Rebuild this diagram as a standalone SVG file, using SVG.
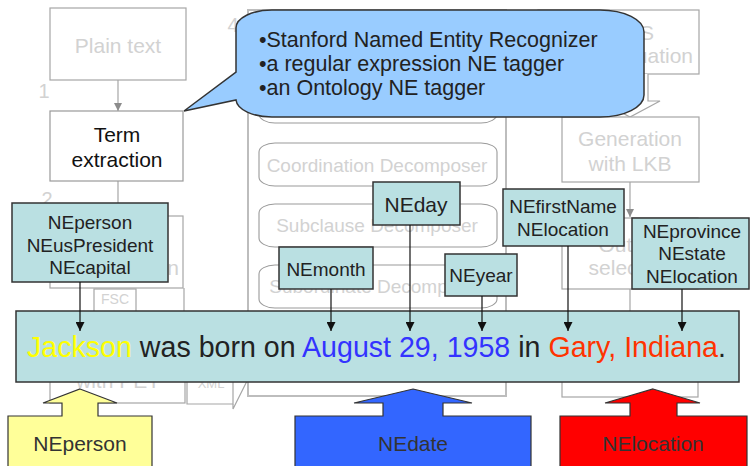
<svg xmlns="http://www.w3.org/2000/svg" width="750" height="466" viewBox="0 0 750 466">
  <style>
    text { font-family: "Liberation Sans", Arial, sans-serif; }
    .bgbox { fill: #ffffff; stroke: #a6a6a6; stroke-width: 1.2; }
    .bgline { fill: none; stroke: #a6a6a6; stroke-width: 1.2; }
    .bgtext { fill: #d2d2d2; font-size: 21px; text-anchor: middle; }
    .num { fill: #d2d2d2; font-size: 20px; text-anchor: middle; }
    .rnd { fill: #ffffff; stroke: #9a9a9a; stroke-width: 1.1; }
    .tag { fill: #bae0e2; stroke: #333333; stroke-width: 1.5; }
    .tagtext { fill: #222222; font-size: 19px; text-anchor: middle; }
    .big { stroke: #333333; stroke-width: 1.2; }
    .bigtext { fill: #333333; font-size: 21px; text-anchor: middle; }
    .bubble { fill: #222222; font-size: 21.5px; }
  </style>
  <defs>
    <marker id="ghead" markerWidth="8" markerHeight="8" refX="8" refY="4" orient="auto" markerUnits="userSpaceOnUse">
      <path d="M0,0 L8,4 L0,8 Z" fill="#8c8c8c"/>
    </marker>
    <marker id="bhead" markerWidth="9" markerHeight="9" refX="9" refY="4.5" orient="auto" markerUnits="userSpaceOnUse">
      <path d="M0,0 L9,4.5 L0,9 Z" fill="#111111"/>
    </marker>
  </defs>

  <!-- faded pipeline in the background -->
  <g id="pipeline">
    <rect class="bgbox" x="50" y="8" width="136" height="72"/>
    <text class="bgtext" x="118" y="53">Plain text</text>
    <text class="num" x="44" y="98">1</text>
    <line class="bgline" x1="118" y1="80" x2="118" y2="111" marker-end="url(#ghead)"/>

    <line class="bgline" x1="118" y1="181" x2="118" y2="216"/>
    <text class="num" x="47" y="206">2</text>
    <rect class="bgbox" x="50" y="216" width="133" height="72"/>
    <text class="bgtext" x="117" y="275">Simplification</text>
    <line class="bgline" x1="184" y1="288" x2="184" y2="312"/>
    <rect class="bgbox" x="94" y="289" width="42" height="40"/>
    <text x="115" y="304" fill="#d2d2d2" font-size="14" text-anchor="middle">FSC</text>
    <text x="115" y="321" fill="#d2d2d2" font-size="14" text-anchor="middle">XML</text>
    <text class="num" x="47" y="326">3</text>
    <rect class="bgbox" x="50" y="332" width="135" height="71"/>
    <text class="bgtext" x="118" y="388">with PET</text>
    <path class="bgbox" d="M187,360 H233 V404 H187 Z"/>
    <path class="bgline" d="M233,404 L233,409 L247,381"/>
    <text x="211" y="388" fill="#d2d2d2" font-size="13" text-anchor="middle">XML</text>

    <text class="num" x="233" y="32">4</text>
    <rect x="248" y="10" width="258" height="386" fill="#ffffff" stroke="#bdbdbd" stroke-width="2"/>
    <rect class="rnd" x="259" y="80" width="238" height="43" rx="16" ry="9"/>
    <rect class="rnd" x="259" y="143" width="238" height="43" rx="16" ry="9"/>
    <text x="377" y="172" fill="#d2d2d2" font-size="19" text-anchor="middle">Coordination Decomposer</text>
    <rect class="rnd" x="259" y="204" width="238" height="43" rx="16" ry="9"/>
    <text x="377" y="232" fill="#d2d2d2" font-size="19" text-anchor="middle">Subclause Decomposer</text>
    <rect class="rnd" x="259" y="265" width="238" height="43" rx="16" ry="9"/>
    <text x="377" y="293" fill="#d2d2d2" font-size="19" text-anchor="middle">Subordinate Decomposer</text>

    <rect class="bgbox" x="538" y="10" width="161" height="64"/>
    <text x="654" y="40" fill="#d2d2d2" font-size="21" text-anchor="end">MRS</text>
    <text x="693" y="63" fill="#d2d2d2" font-size="21" text-anchor="end">Disambiguation</text>
    <path d="M613,74 V101 H600 L630,117 L660,101 H648 V74" fill="#ffffff" stroke="#a6a6a6" stroke-width="1.2"/>
    <rect class="bgbox" x="562" y="117" width="137" height="65"/>
    <text class="bgtext" x="630" y="146">Generation</text>
    <text class="bgtext" x="630" y="171">with LKB</text>
    <line class="bgline" x1="630" y1="182" x2="630" y2="217" marker-end="url(#ghead)"/>
    <rect class="bgbox" x="562" y="218" width="136" height="71"/>
    <text class="bgtext" x="630" y="252">Output</text>
    <text class="bgtext" x="630" y="275">selection</text>
    <line class="bgline" x1="630" y1="289" x2="630" y2="312"/>
    <rect class="bgbox" x="562" y="360" width="136" height="37"/>
  </g>

  <!-- speech bubble listing the taggers -->
  <g id="callout">
    <path d="M272,10 H600 A44,22 0 0 1 644,32 V95 A44,22 0 0 1 600,117 H272 A36,18 0 0 1 236,100 L184,111 L236,72 V28 A36,18 0 0 1 272,10 Z" fill="#99ccff" stroke="#333333" stroke-width="1.5"/>
    <text class="bubble" x="259" y="47">•Stanford Named Entity Recognizer</text>
    <text class="bubble" x="259" y="71">•a regular expression NE tagger</text>
    <text class="bubble" x="259" y="95">•an Ontology NE tagger</text>
  </g>

  <g id="term-extraction">
    <rect x="50" y="111" width="133" height="70" fill="#ffffff" stroke="#999999" stroke-width="1.2"/>
    <text x="117" y="142" fill="#111111" font-size="21" text-anchor="middle">Term</text>
    <text x="117" y="167" fill="#111111" font-size="21" text-anchor="middle">extraction</text>
  </g>

  <!-- sentence band -->
  <g id="sentence">
    <rect x="16" y="311" width="723" height="71" fill="#bae0e2" stroke="#333333" stroke-width="1.5"/>
    <text x="27" y="357" font-size="28.6" fill="#222222"><tspan fill="#ffff00">Jackson</tspan> was born on <tspan fill="#3333ff">August 29, 1958</tspan> in <tspan fill="#ff3300">Gary, Indiana</tspan>.</text>
  </g>

  <!-- tag boxes -->
  <g id="tag-person">
    <rect class="tag" x="12" y="203" width="156" height="79"/>
    <text class="tagtext" x="90" y="229">NEperson</text>
    <text class="tagtext" x="90" y="252">NEusPresident</text>
    <text class="tagtext" x="90" y="274">NEcapital</text>
  </g>
  <g id="tag-day">
    <rect class="tag" x="373" y="182" width="87" height="43"/>
    <text x="416" y="212" fill="#222222" font-size="21" text-anchor="middle">NEday</text>
  </g>
  <g id="tag-month">
    <rect class="tag" x="279" y="247" width="94" height="42"/>
    <text class="tagtext" x="326" y="276">NEmonth</text>
  </g>
  <g id="tag-year">
    <rect class="tag" x="445" y="254" width="72" height="42"/>
    <text class="tagtext" x="481" y="282">NEyear</text>
  </g>
  <g id="tag-firstname">
    <rect class="tag" x="503" y="189" width="121" height="57"/>
    <text class="tagtext" x="563" y="213">NEfirstName</text>
    <text class="tagtext" x="563" y="236">NElocation</text>
  </g>
  <g id="tag-province">
    <rect class="tag" x="632" y="218" width="117" height="71"/>
    <text class="tagtext" x="692" y="238">NEprovince</text>
    <text class="tagtext" x="692" y="260">NEstate</text>
    <text class="tagtext" x="692" y="283">NElocation</text>
  </g>

  <!-- connectors from tags to words -->
  <g id="connectors" fill="none" stroke="#111111" stroke-width="1.2">
    <line x1="80" y1="282" x2="80" y2="331" marker-end="url(#bhead)"/>
    <line x1="331" y1="289" x2="331" y2="331" marker-end="url(#bhead)"/>
    <line x1="410" y1="225" x2="410" y2="331" marker-end="url(#bhead)"/>
    <line x1="482" y1="296" x2="482" y2="331" marker-end="url(#bhead)"/>
    <line x1="568" y1="246" x2="568" y2="331" marker-end="url(#bhead)"/>
    <line x1="682" y1="289" x2="682" y2="331" marker-end="url(#bhead)"/>
  </g>

  <!-- entity class arrows -->
  <g id="class-person">
    <path class="big" d="M80,389 L117,403 H98 V416 H152 V470 H8 V416 H62 V403 H43 Z" fill="#ffff99"/>
    <text class="bigtext" x="80" y="451">NEperson</text>
  </g>
  <g id="class-date">
    <path class="big" d="M413,389 L472,403 H443 V416 H531 V470 H295 V416 H383 V403 H354 Z" fill="#3366ff"/>
    <text class="bigtext" x="413" y="451">NEdate</text>
  </g>
  <g id="class-location">
    <path class="big" d="M653,389 L700,403 H677 V416 H747 V470 H560 V416 H630 V403 H605 Z" fill="#ff0000"/>
    <text class="bigtext" x="653" y="451">NElocation</text>
  </g>
</svg>
